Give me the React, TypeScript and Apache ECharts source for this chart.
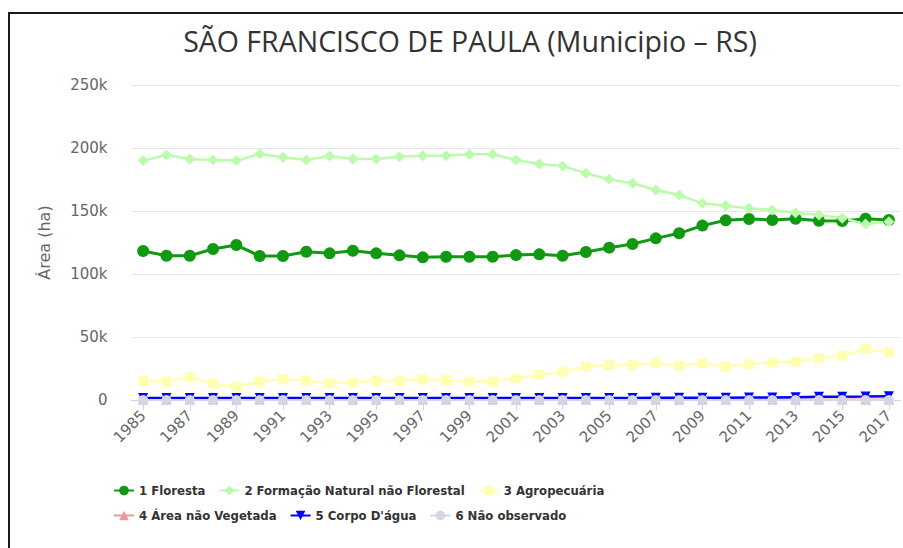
import React, { useEffect, useRef } from 'react';
import * as echarts from 'echarts';

const years = ['1985','1986','1987','1988','1989','1990','1991','1992','1993','1994','1995','1996','1997','1998','1999','2000','2001','2002','2003','2004','2005','2006','2007','2008','2009','2010','2011','2012','2013','2014','2015','2016','2017'];

const floresta = [118300,114500,114500,119800,123000,114300,114300,117700,116400,118500,116400,114800,113200,113700,113700,113700,115000,115600,114500,117500,120900,123800,128300,132300,138400,142600,143700,142900,143900,142300,142000,143900,142900];
const formacaoNatural = [190000,194400,191300,190500,190000,195200,192600,190500,193700,191300,191300,193100,193900,193900,195000,195000,190500,187300,185700,179900,175100,172000,166700,162700,156100,154200,152100,150800,148700,146800,144200,139700,141500];
const agropecuaria = [15100,14600,18000,13200,10600,14600,16400,15300,13200,13800,15300,15300,16400,15900,14600,14600,17200,19800,22500,26500,27800,27800,29100,27200,29100,26500,28300,29900,30400,33100,35200,40500,37800];
const areaNaoVegetada = [300,300,300,300,300,300,300,300,300,300,300,300,300,300,300,300,300,300,300,300,300,300,300,300,300,300,300,300,300,300,300,300,300];
const corpoDagua = [1500,1500,1500,1500,1500,1500,1500,1500,1500,1500,1500,1500,1500,1500,1500,1500,1500,1500,1500,1500,1500,1600,1700,1700,1700,1800,1900,1900,2200,2500,2600,2700,3000];
const naoObservado = [0,0,0,0,0,0,0,0,0,0,0,0,0,0,0,0,0,0,0,0,0,0,0,0,0,0,0,0,0,0,0,0,0];

const seriesNames = ['1 Floresta','2 Formação Natural não Florestal','3 Agropecuária','4 Área não Vegetada','5 Corpo D\'água','6 Não observado'];
const yTicks = [0, 50000, 100000, 150000, 200000, 250000];

const FONT = '"DejaVu Sans", Verdana, sans-serif';
const LEGEND_FONT = '"DejaVu Sans Condensed", "DejaVu Sans", sans-serif';

export default function App() {
  const ref = useRef<HTMLDivElement>(null);
  useEffect(() => {
    const chart = echarts.init(ref.current!, null, { renderer: 'svg' });
    const mk = (name: string, data: number[], color: string, symbol: string, size: number, width: number) => ({
      name,
      type: 'line',
      data,
      symbol,
      symbolSize: size,
      showSymbol: true,
      lineStyle: { color, width },
      itemStyle: { color },
      emphasis: { disabled: true },
    });
    const legendText = { fontFamily: LEGEND_FONT, fontWeight: 'bold', fontSize: 13, color: '#333333' };
    chart.setOption({
      animation: false,
      title: {
        text: 'SÃO FRANCISCO DE PAULA (Municipio – RS)',
        left: 465,
        textAlign: 'center',
        top: 21,
        textStyle: { fontFamily: '"Open Sans", sans-serif', fontSize: 28.5, fontWeight: 'normal', color: '#333333' },
      },
      grid: { left: 131.5, right: 2.5, top: 85, bottom: 148, containLabel: false },
      xAxis: {
        type: 'category',
        data: years,
        boundaryGap: true,
        axisLine: { lineStyle: { color: '#ccd6eb' } },
        axisTick: { show: true, interval: 1, alignWithLabel: true, length: 10, lineStyle: { color: '#ccd6eb' } },
        axisLabel: { interval: 1, rotate: 45, margin: 13, color: '#666666', fontSize: 15, fontFamily: FONT },
      },
      yAxis: {
        type: 'value',
        min: yTicks[0],
        max: yTicks[yTicks.length - 1],
        interval: 50000,
        name: 'Área (ha)',
        nameLocation: 'middle',
        nameGap: 79,
        nameTextStyle: { color: '#666666', fontSize: 16, fontFamily: FONT },
        axisLine: { show: false },
        axisTick: { show: false },
        splitLine: { lineStyle: { color: '#e6e6e6' } },
        axisLabel: {
          margin: 24,
          color: '#666666',
          fontSize: 15,
          fontFamily: FONT,
          formatter: (v: number) => (v === 0 ? '0' : v / 1000 + 'k'),
        },
      },
      legend: [
        {
          data: seriesNames.slice(0, 3),
          left: 108,
          top: 479,
          itemWidth: 20,
          itemHeight: 12,
          itemGap: 13,
          textStyle: legendText,
        },
        {
          data: seriesNames.slice(3, 6),
          left: 108,
          top: 504,
          itemWidth: 20,
          itemHeight: 12,
          itemGap: 13,
          textStyle: legendText,
        },
      ],
      series: [
        mk(seriesNames[0], floresta, '#129912', 'circle', 12, 3),
        mk(seriesNames[1], formacaoNatural, '#bbfcac', 'diamond', 11, 2.5),
        mk(seriesNames[2], agropecuaria, '#ffffb2', 'rect', 10, 2.5),
        mk(seriesNames[3], areaNaoVegetada, '#ea9999', 'triangle', 10, 2),
        mk(seriesNames[4], corpoDagua, '#0000ff', 'path://M0,0 L10,0 L5,8 Z', 10, 2.5),
        mk(seriesNames[5], naoObservado, '#d5d5e5', 'circle', 10, 2),
      ],
    });
    return () => chart.dispose();
  }, []);
  return (
    <div style={{ position: 'fixed', left: 0, top: 0, width: 903, height: 548, background: '#fff', overflow: 'hidden' }}>
      <div style={{ position: 'absolute', left: 8, top: 12, width: 895, height: 2, background: '#1a1a1a' }} />
      <div style={{ position: 'absolute', left: 8, top: 12, width: 2, height: 536, background: '#1a1a1a' }} />
      <div ref={ref} style={{ position: 'absolute', left: 0, top: 0, width: 903, height: 548 }} />
    </div>
  );
}
